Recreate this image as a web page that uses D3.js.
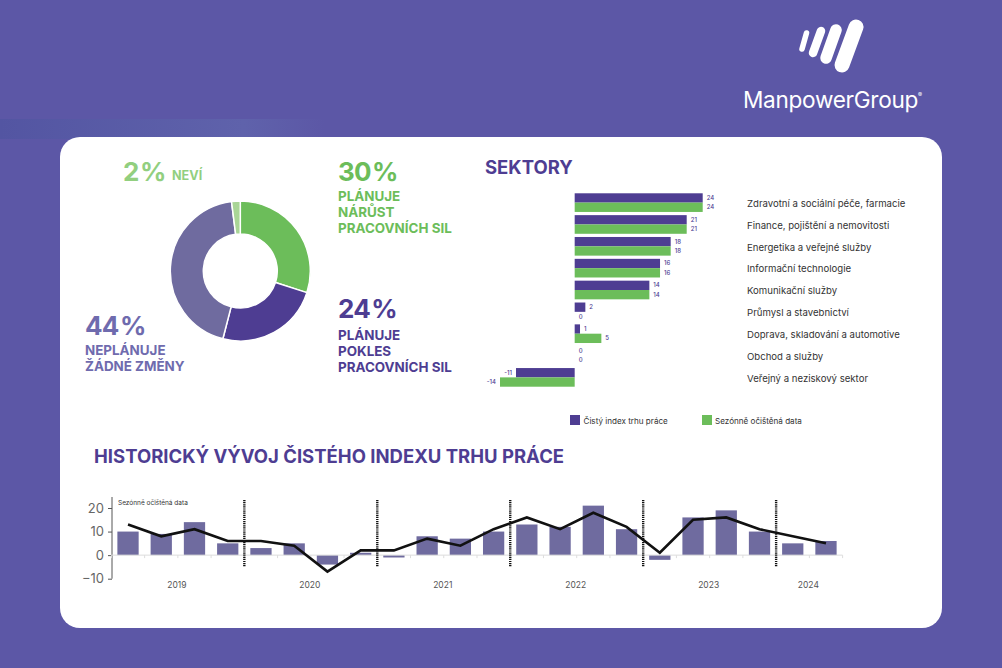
<!DOCTYPE html>
<html>
<head>
<meta charset="utf-8">
<script src="https://cdn.jsdelivr.net/npm/d3@7"></script>
<style>
  html, body { margin: 0; padding: 0; background: #5b56a5; overflow: hidden; }
  svg { display: block; font-family: Inter, "Noto Sans", sans-serif; }
</style>
</head>
<body>
<div id="content"></div>
<script>
// donut
var shareLabels = ["roste", "klesa", "beze zmeny", "nevi"];
var shareValues = [30, 24, 44, 2];
var shareColors = ["#6cbd5a", "#4e3d92", "#6f6b9f", "#a9d596"];

// sectors
var sectors = ["Zdravotní a sociální péče, farmacie", "Finance, pojištění a nemovitosti", "Energetika a veřejné služby",
  "Informační technologie", "Komunikační služby", "Průmysl a stavebnictví",
  "Doprava, skladování a automotive", "Obchod a služby", "Veřejný a neziskový sektor"];
var netIndex = [24, 21, 18, 16, 14, 2, 1, 0, -11];
var seasonal = [24, 21, 18, 16, 14, 0, 5, 0, -14];

// history, one entry per quarter
var quarterYears = [2019, 2019, 2019, 2019, 2020, 2020, 2020, 2020, 2021, 2021, 2021, 2021,
  2022, 2022, 2022, 2022, 2023, 2023, 2023, 2023, 2024, 2024];
var histBars = [10, 9, 14, 5, 3, 5, -4, 1, -1, 8, 7, 10, 13, 12, 21, 11, -2, 16, 19, 10, 5, 6];
var histLine = [13, 8, 11, 6, 6, 4, -7, 2, 2, 7, 4, 11, 16, 11, 18, 12, 1, 15, 16, 11, 8, 5];
var histTicks = [-10, 0, 10, 20];

var win_width = 1002;
var win_height = 668;
var purple = "#4e3d92";
var green = "#6cbd5a";

var svg = d3.select("#content").append("svg")
  .attr("width", win_width)
  .attr("height", win_height);

var defs = svg.append("defs");
var grad = defs.append("linearGradient")
  .attr("id", "strip").attr("x1", 0).attr("x2", 1).attr("y1", 0).attr("y2", 0);
grad.append("stop").attr("offset", "0%").attr("stop-color", "#5355a2");
grad.append("stop").attr("offset", "75%").attr("stop-color", "#5f62ab");
grad.append("stop").attr("offset", "100%").attr("stop-color", "#5c57a6");

svg.append("rect").attr("width", win_width).attr("height", win_height).attr("fill", "#5c57a6");
svg.append("rect").attr("y", 119).attr("width", 325).attr("height", 20).attr("fill", "url(#strip)");
svg.append("rect").attr("x", 60).attr("y", 137).attr("width", 882).attr("height", 491)
  .attr("rx", 20).attr("fill", "white");

// logo
var logo = svg.append("g").attr("fill", "none").attr("stroke", "white").attr("stroke-linecap", "round");
[[806.5, 33, 802, 49, 5.5], [821, 31, 813, 53, 8.5], [836, 30, 826, 58, 11.5], [856, 27, 842, 65, 15]].forEach(function(s) {
  logo.append("line").attr("x1", s[0]).attr("y1", s[1]).attr("x2", s[2]).attr("y2", s[3]).attr("stroke-width", s[4]);
});
svg.append("text").attr("x", 743).attr("y", 108).attr("fill", "white")
  .attr("font-size", 22.6).attr("letter-spacing", -0.3).text("ManpowerGroup");
svg.append("text").attr("x", 918).attr("y", 97).attr("fill", "white").attr("font-size", 6).text("®");

function addText(x, y, str, size, color, weight) {
  return svg.append("text").attr("x", x).attr("y", y).attr("font-size", size)
    .attr("fill", color).attr("font-weight", weight || 700).text(str);
}

function addPct(x, y, str, color) {
  return addText(x, y, str, 26, color, 700).attr("letter-spacing", -0.8).attr("word-spacing", -4);
}

// donut
var pie = d3.pie().sort(null).value(function(d) { return d; });
var arc = d3.arc().innerRadius(37).outerRadius(70);
svg.append("g").attr("transform", "translate(240.3,271)")
  .selectAll("path").data(pie(shareValues)).enter().append("path")
  .attr("d", arc)
  .attr("fill", function(d, i) { return shareColors[i]; })
  .attr("stroke", "white").attr("stroke-width", 1.5);

addPct(123, 181, "2 %", "#92cf7f");
addText(172, 180, "NEVÍ", 12.6, "#92cf7f");
addPct(338, 181, "30 %", green);
addText(338, 201, "PLÁNUJE", 13.4, green);
addText(338, 217, "NÁRŮST", 13.4, green);
addText(338, 233, "PRACOVNÍCH SIL", 13.4, green);
addPct(338, 318, "24 %", purple);
addText(338, 340, "PLÁNUJE", 13.4, purple);
addText(338, 356, "POKLES", 13.4, purple);
addText(338, 372, "PRACOVNÍCH SIL", 13.4, purple);
addPct(85, 335, "44 %", "#6f6bae");
addText(85, 355, "NEPLÁNUJE", 13.4, "#6f6bae");
addText(85, 371, "ŽÁDNÉ ZMĚNY", 13.4, "#6f6bae");

// sectors
addText(485, 174, "SEKTORY", 18.5, purple);

var x = d3.scaleLinear().domain([-14, 24]).range([500, 702.7]);
var y0 = d3.scaleBand().domain(sectors).range([191.7, 388.3]).paddingInner(0.146).paddingOuter(0.073);
var y1 = d3.scaleBand().domain([0, 1]).range([0, y0.bandwidth()]);

[netIndex, seasonal].forEach(function(vals, s) {
  var g = svg.append("g");
  var color = s == 0 ? purple : green;
  g.selectAll("rect").data(vals).enter().append("rect")
    .attr("x", function(d) { return Math.min(x(d), x(0)); })
    .attr("y", function(d, i) { return y0(sectors[i]) + y1(s); })
    .attr("width", function(d) { return Math.abs(x(d) - x(0)); })
    .attr("height", y1.bandwidth())
    .attr("fill", color);
  g.selectAll("text").data(vals).enter().append("text")
    .attr("x", function(d) { return d < 0 ? x(d) - 4 : x(d) + 4; })
    .attr("y", function(d, i) { return y0(sectors[i]) + y1(s) + y1.bandwidth() / 2 + 2; })
    .attr("text-anchor", function(d) { return d < 0 ? "end" : "start"; })
    .attr("font-size", 6)
    .attr("font-weight", 500)
    .attr("fill", "#4e3d92")
    .text(function(d) { return d; });
});

svg.append("g").selectAll("text").data(sectors).enter().append("text")
  .attr("x", 747)
  .attr("y", function(d) { return y0(d) + y0.bandwidth() / 2 + 4.3; })
  .attr("font-size", 9.6)
  .attr("fill", "#333")
  .text(function(d) { return d; });

// legend
svg.append("rect").attr("x", 570).attr("y", 415).attr("width", 10).attr("height", 10).attr("fill", purple);
addText(583.5, 424, "Čistý index trhu práce", 8.1, "#333", 400);
svg.append("rect").attr("x", 702).attr("y", 415).attr("width", 10).attr("height", 10).attr("fill", green);
addText(715, 424, "Sezónně očištěná data", 8.1, "#333", 400);

// history
addText(94, 463, "HISTORICKÝ VÝVOJ ČISTÉHO INDEXU TRHU PRÁCE", 18.5, purple);
addText(118, 505, "Sezónně očištěná data", 6.5, "#333", 400);

var quarters = d3.range(histBars.length);
var hx = d3.scaleBand().domain(quarters).range([111.4, 842.6]).paddingInner(0.36).paddingOuter(0.18);
var hy = d3.scaleLinear().domain([-10, 20]).range([578.7, 508]);

var yAxis = d3.axisLeft(hy).tickValues(histTicks).tickSize(4).tickPadding(4);
var yg = svg.append("g").attr("transform", "translate(112,0)").call(yAxis);
yg.select(".domain").attr("d", "M0,497V" + hy(-10)).attr("stroke", "#555");
yg.selectAll("line").attr("stroke", "#555");
yg.selectAll("text").attr("font-size", 13).attr("font-family", "Inter").attr("fill", "#666");

svg.append("g").selectAll("rect").data(histBars).enter().append("rect")
  .attr("x", function(d, i) { return hx(i); })
  .attr("y", function(d) { return hy(Math.max(d, 0)); })
  .attr("width", hx.bandwidth())
  .attr("height", function(d) { return Math.abs(hy(d) - hy(0)); })
  .attr("fill", "#6f6b9f");

// baseline with ticks on the quarter edges
var edgeX = function(i) { return hx.range()[0] + i * hx.step(); };
var edges = d3.range(histBars.length + 1);
svg.append("line").attr("x1", edgeX(0)).attr("x2", edgeX(histBars.length))
  .attr("y1", hy(0)).attr("y2", hy(0)).attr("stroke", "#ddd");
svg.append("g").selectAll("line").data(edges).enter().append("line")
  .attr("x1", edgeX).attr("x2", edgeX)
  .attr("y1", hy(0)).attr("y2", hy(0) + 3).attr("stroke", "#ddd");

// dotted separators between years
var years = Array.from(new Set(quarterYears));
var separators = years.slice(1).map(function(yr) { return quarterYears.indexOf(yr); });
svg.append("g").selectAll("line").data(separators).enter().append("line")
  .attr("x1", edgeX).attr("x2", edgeX)
  .attr("y1", 500).attr("y2", 567)
  .attr("stroke", "#111").attr("stroke-width", 2.4).attr("stroke-dasharray", "1.2 0.9");

var line = d3.line()
  .x(function(d, i) { return hx(i) + hx.bandwidth() / 2; })
  .y(function(d) { return hy(d); });
svg.append("path").datum(histLine).attr("d", line)
  .attr("fill", "none").attr("stroke", "#111").attr("stroke-width", 2.6);

svg.append("g").selectAll("text").data(years).enter().append("text")
  .attr("x", function(yr) {
    var first = quarterYears.indexOf(yr), last = quarterYears.lastIndexOf(yr);
    return (hx(first) + hx(last) + hx.bandwidth()) / 2 - 1;
  })
  .attr("y", 587.5)
  .attr("text-anchor", "middle")
  .attr("font-size", 8.5)
  .attr("fill", "#555")
  .text(function(d) { return d; });
</script>
</body>
</html>
